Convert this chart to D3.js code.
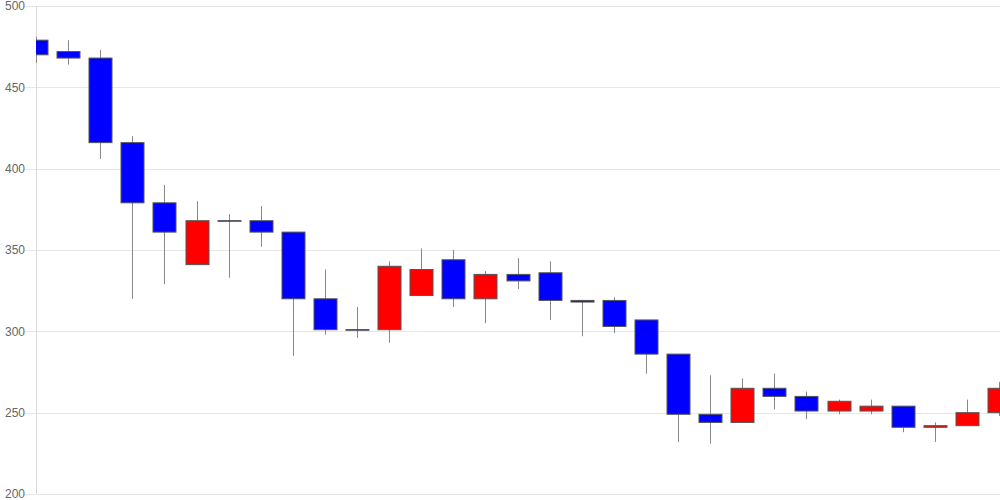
<!DOCTYPE html>
<html><head><meta charset="utf-8">
<script src="https://cdn.jsdelivr.net/npm/d3@7"></script>
<style>body{margin:0;background:#fff}svg{display:block}</style>
</head><body><svg id="c" width="1000" height="500"></svg>
<script>
const opens  = [479,472,468,416,379,341,368,368,361,320,301,301,322,344,320,335,336,319,319,307,286,249,244,265,260,251,251,254,241,242,250];
const closes = [470,468,416,379,361,368,368,361,320,301,301,340,338,320,335,331,319,318,303,286,249,244,265,260,251,257,254,241,242,250,265];
const highs  = [481,479,473,420,390,380,372,377,361,338,315,343,351,350,337,345,343,319,321,307,286,273,271,274,263,258,258,254,244,258,269];
const lows   = [465,464,406,320,329,341,333,352,285,298,296,293,322,315,305,326,307,297,299,274,232,231,244,252,246,249,249,238,232,242,248];
const yTicks = [200,250,300,350,400,450,500];

const svg = d3.select("#c");
const L = 36, R = 999, T = 6, B = 494;
const x = d3.scaleLinear().domain([0, opens.length-1]).range([L, R]);
const y = d3.scaleLinear().domain([200,500]).range([B, T]);

svg.append("defs").append("clipPath").attr("id","clip")
  .append("rect").attr("x",L).attr("y",0).attr("width",1000-L).attr("height",500);

// grid + labels
const yAxis = d3.axisLeft(y).tickValues(yTicks).tickSize(0).tickPadding(11);
const ga = svg.append("g").attr("transform",`translate(${L},0)`).call(yAxis);
ga.select(".domain").remove();
ga.selectAll(".tick line").remove();
ga.selectAll(".tick").append("line").attr("x1",-11).attr("x2",1000-L)
  .attr("stroke","#e6e6e6").attr("shape-rendering","crispEdges");
ga.selectAll(".tick text").attr("fill","#666").attr("font-family","Liberation Sans, Arial, sans-serif").attr("font-size","12px");
svg.append("line").attr("x1",L+0.5).attr("x2",L+0.5).attr("y1",T).attr("y2",B).attr("stroke","#d9d9d9");

const g = svg.append("g").attr("clip-path","url(#clip)");
const idx = d3.range(opens.length);
const bw = 23;
g.selectAll("line.wick").data(idx).join("line").attr("class","wick")
  .attr("x1",i=>Math.round(x(i))+0.5).attr("x2",i=>Math.round(x(i))+0.5)
  .attr("y1",i=>y(highs[i])).attr("y2",i=>y(lows[i]))
  .attr("stroke","#888").attr("stroke-width",1);
g.selectAll("rect.body").data(idx).join("rect").attr("class","body")
  .attr("x",i=>Math.round(x(i))-bw/2+0.5)
  .attr("width",bw)
  .attr("y",i=>y(Math.max(opens[i],closes[i])))
  .attr("height",i=>Math.max(0.5, Math.abs(y(opens[i])-y(closes[i]))))
  .attr("fill",i=>closes[i]>opens[i]?"#ff0000":"#0000ff")
  .attr("stroke",i=>opens[i]===closes[i]?"#444":"#555")
  .attr("stroke-width",1);
</script></body></html>
